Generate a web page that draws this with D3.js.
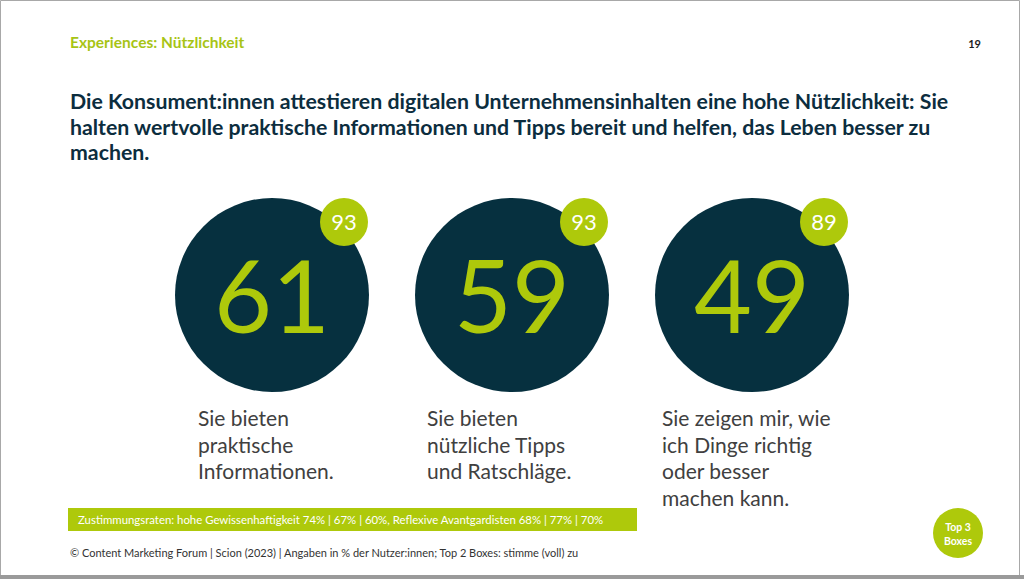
<!DOCTYPE html>
<meta charset='utf-8'>
<head>
  <title>Experiences: Nützlichkeit</title>
</head>

<style>
html, body {
  margin: 0;
  padding: 0;
  background: #fff;
}

svg {
  display: block;
  font-family: Lato, "Open Sans", sans-serif;
}

.frame {
  fill: none;
  stroke: #a8a8a8;
}

.big circle { fill: #06303f; }
.big .value { fill: #aec90b; font-size: 100px; text-anchor: middle; }
.big .badge { fill: #aec90b; }
.big .top { fill: #fff; font-size: 22px; text-anchor: middle; }
.big .label { fill: #404040; font-size: 21px; }

.title { fill: #0c2d3e; font-weight: bold; font-size: 21.3px; }
.kicker { fill: #a7c415; font-weight: bold; font-size: 15.5px; }
.page { fill: #1d1d1d; font-weight: bold; font-size: 11px; }
.note { fill: #fff; font-size: 11.4px; }
.footer { fill: #333; font-size: 11px; }
</style>

<body>
  <svg width='1024' height='579'></svg>

  <script src='https://cdn.jsdelivr.net/npm/d3@7/dist/d3.min.js'></script>
  <script>
var width = 1024, height = 579;

// chart data
var statements = ['praktisch', 'tipps', 'besser'];
var top2Values = [61, 59, 49];
var top3Values = [93, 93, 89];
var statementLines = [
  ['Sie bieten', 'praktische', 'Informationen.'],
  ['Sie bieten', 'nützliche Tipps', 'und Ratschläge.'],
  ['Sie zeigen mir, wie', 'ich Dinge richtig', 'oder besser', 'machen kann.']
];
var titleLines = [
  'Die Konsument:innen attestieren digitalen Unternehmensinhalten eine hohe Nützlichkeit: Sie',
  'halten wertvolle praktische Informationen und Tipps bereit und helfen, das Leben besser zu',
  'machen.'
];
var noteText = 'Zustimmungsraten: hohe Gewissenhaftigkeit 74% | 67% | 60%, Reflexive Avantgardisten 68% | 77% | 70%';
var footerText = '© Content Marketing Forum | Scion (2023) | Angaben in % der Nutzer:innen; Top 2 Boxes: stimme (voll) zu';

var svg = d3.select('svg');

// slide frame
svg.append('rect')
  .attr('width', width)
  .attr('height', height)
  .attr('fill', '#fff');
svg.append('path')
  .attr('class', 'frame')
  .attr('d', 'M0.5,' + (height - 4) + 'V0.5H1019.5V' + (height - 4));
svg.append('rect')
  .attr('x', 0).attr('y', height - 4)
  .attr('width', width).attr('height', 4)
  .attr('fill', '#9a9a9a');

// header
svg.append('text').attr('class', 'kicker')
  .attr('x', 70).attr('y', 48)
  .text('Experiences: Nützlichkeit');
svg.append('text').attr('class', 'page')
  .attr('x', 981).attr('y', 48)
  .attr('text-anchor', 'end')
  .text('19');

svg.append('g')
  .selectAll('text')
  .data(titleLines)
  .enter()
  .append('text')
  .attr('class', 'title')
  .attr('x', 70)
  .attr('y', function(d, i) { return 109 + i * 25.5; })
  .text(function(d) { return d; });

// circles
var x = d3.scaleBand()
  .domain(statements)
  .range([152, 872]);

var r = 97, cy = 295;
var labelDx = [-74, -85, -90];

var groups = svg.append('g')
  .attr('class', 'big')
  .selectAll('g')
  .data(statements)
  .enter()
  .append('g')
  .attr('transform', function(d) {
    return 'translate(' + (x(d) + x.bandwidth() / 2) + ',' + cy + ')';
  });

groups.append('circle')
  .attr('r', r);

groups.append('text')
  .attr('class', 'value')
  .attr('y', 38)
  .text(function(d, i) { return top2Values[i]; });

groups.append('circle')
  .attr('class', 'badge')
  .attr('cx', 72)
  .attr('cy', -73)
  .attr('r', 24);

groups.append('text')
  .attr('class', 'top')
  .attr('x', 72)
  .attr('y', -65)
  .text(function(d, i) { return top3Values[i]; });

groups.each(function(d, i) {
  d3.select(this).selectAll('text.label')
    .data(statementLines[i])
    .enter()
    .append('text')
    .attr('class', 'label')
    .attr('x', labelDx[i])
    .attr('y', function(t, j) { return 131 + j * 26.7; })
    .text(function(t) { return t; });
});

// note bar
svg.append('rect')
  .attr('x', 68).attr('y', 508)
  .attr('width', 569).attr('height', 23)
  .attr('fill', '#aec90b');
svg.append('text').attr('class', 'note')
  .attr('x', 78).attr('y', 523.5)
  .text(noteText);

svg.append('text').attr('class', 'footer')
  .attr('x', 70).attr('y', 557)
  .text(footerText);

// top 3 boxes badge
svg.append('circle')
  .attr('cx', 958).attr('cy', 533).attr('r', 25)
  .attr('fill', '#aec90b');
svg.append('g')
  .selectAll('text')
  .data(['Top 3', 'Boxes'])
  .enter()
  .append('text')
  .attr('x', 958)
  .attr('y', function(d, i) { return 531 + i * 14; })
  .attr('text-anchor', 'middle')
  .attr('fill', '#fff')
  .attr('font-weight', 'bold')
  .attr('font-size', '10.5px')
  .text(function(d) { return d; });
  </script>
</body>
</html>
